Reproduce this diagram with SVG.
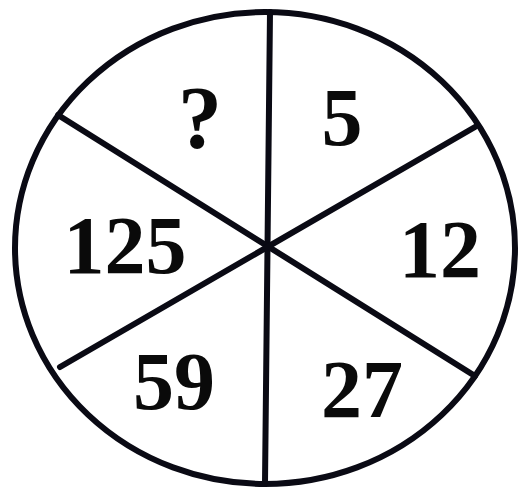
<svg xmlns="http://www.w3.org/2000/svg" width="527" height="494" viewBox="0 0 527 494">
<style>
.l{stroke:#0a0a14;stroke-width:6;fill:none;stroke-linecap:round}
.t{font-family:"Liberation Serif","Times New Roman",serif;font-weight:bold;font-size:82px;fill:#0a0a0a;text-anchor:middle}
</style>
<rect width="527" height="494" fill="#fff"/>
<g id="connectors">
<ellipse class="l" cx="265" cy="248" rx="250" ry="236"/>
<line class="l" x1="270" y1="12" x2="265" y2="483"/>
<line class="l" x1="58" y1="115" x2="475" y2="376"/>
<line class="l" x1="60" y1="367" x2="475" y2="127"/>
</g>
<g id="s1"><text class="t" x="200" y="147" style="font-size:88px">?</text></g>
<g id="s2"><text class="t" x="342" y="145">5</text></g>
<g id="s3"><text class="t" x="125" y="273">125</text></g>
<g id="s4"><text class="t" x="440" y="277">12</text></g>
<g id="s5"><text class="t" x="174" y="409">59</text></g>
<g id="s6"><text class="t" x="362" y="417">27</text></g>
</svg>
